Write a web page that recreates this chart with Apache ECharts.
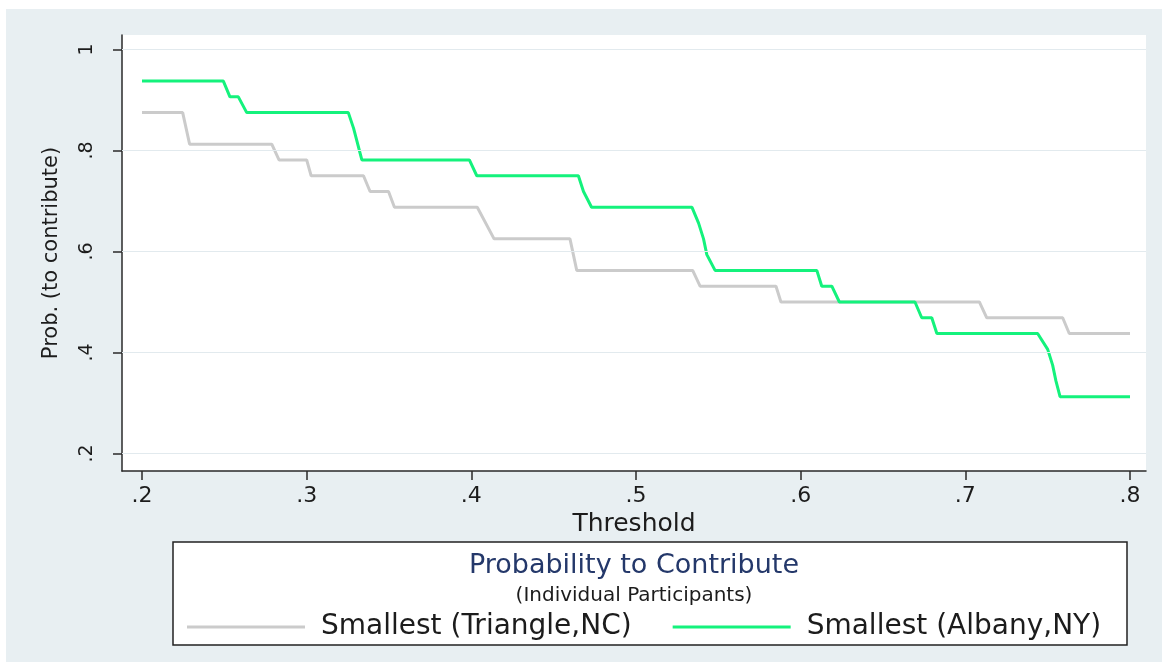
<!DOCTYPE html>
<html>
<head>
<meta charset="utf-8">
<script src="https://cdn.jsdelivr.net/npm/echarts@6/dist/echarts.min.js"></script>
<style>
  html, body { margin: 0; padding: 0; background: #ffffff; }
  #chart { width: 1173px; height: 671px; }
</style>
</head>
<body>
<div id="chart"></div>
<script>
// Probability to contribute by threshold, smallest groups
const triangleName = 'Smallest (Triangle,NC)';
const albanyName = 'Smallest (Albany,NY)';

const triangleX = [0.2, 0.2247, 0.2289, 0.2788, 0.2832, 0.3000, 0.3027, 0.3345, 0.3385, 0.3497, 0.3533,
  0.4036, 0.4138, 0.4599, 0.4640, 0.5344, 0.5389, 0.5850, 0.5880, 0.7085, 0.7130, 0.7591, 0.7631, 0.8];
const triangleY = [0.875, 0.875, 0.8125, 0.8125, 0.78125, 0.78125, 0.75, 0.75, 0.71875, 0.71875, 0.6875,
  0.6875, 0.625, 0.625, 0.5625, 0.5625, 0.53125, 0.53125, 0.5, 0.5, 0.46875, 0.46875, 0.4375, 0.4375];

const albanyX = [0.2, 0.2494, 0.2534, 0.2585, 0.2636, 0.3253, 0.3285, 0.3335, 0.3988, 0.4033, 0.4650,
  0.4681, 0.4730, 0.5340, 0.5380, 0.5410, 0.5430, 0.5480, 0.6098, 0.6128, 0.6189, 0.6235, 0.6694,
  0.6735, 0.6796, 0.6827, 0.7439, 0.7500, 0.7530, 0.7550, 0.7575, 0.8];
const albanyY = [0.9375, 0.9375, 0.90625, 0.90625, 0.875, 0.875, 0.84375, 0.78125, 0.78125, 0.75, 0.75,
  0.71875, 0.6875, 0.6875, 0.65625, 0.625, 0.59375, 0.5625, 0.5625, 0.53125, 0.53125, 0.5, 0.5,
  0.46875, 0.46875, 0.4375, 0.4375, 0.40625, 0.375, 0.34375, 0.3125, 0.3125];

const xTicks = [0.2, 0.3, 0.4, 0.5, 0.6, 0.7, 0.8];
const xTickLabels = ['.2', '.3', '.4', '.5', '.6', '.7', '.8'];
const yTicks = [0.2, 0.4, 0.6, 0.8, 1];
const yTickLabels = ['.2', '.4', '.6', '.8', '1'];

const legendTitle = 'Probability to Contribute';
const legendSubtitle = '(Individual Participants)';
const xTitle = 'Threshold';
const yTitle = 'Prob. (to contribute)';

const FONT = 'DejaVu Sans';
const INK = '#1c1c1c';

function pairs(xs, ys) { return xs.map((x, i) => [x, ys[i]]); }
function labelFor(ticks, labels) {
  return v => {
    const i = ticks.findIndex(t => Math.abs(t - v) < 1e-6);
    return i >= 0 ? labels[i] : '';
  };
}

const chart = echarts.init(document.getElementById('chart'), null, { renderer: 'canvas' });

chart.setOption({
  animation: false,
  backgroundColor: '#ffffff',
  graphic: [
    { type: 'rect', z: -100, silent: true,
      shape: { x: 6, y: 9, width: 1156, height: 653 },
      style: { fill: '#e8eff2' } },
    { type: 'rect', z: 1, silent: true,
      shape: { x: 173, y: 542, width: 954, height: 103 },
      style: { fill: '#ffffff', stroke: '#222222', lineWidth: 1.5 } },
    { type: 'text', z: 2, silent: true, x: 634, y: 566,
      style: { text: legendTitle, fill: '#24386a', font: '27px "' + FONT + '"',
               textAlign: 'center', textVerticalAlign: 'middle' } },
    { type: 'text', z: 2, silent: true, x: 634, y: 596,
      style: { text: legendSubtitle, fill: INK, font: '20px "' + FONT + '"',
               textAlign: 'center', textVerticalAlign: 'middle' } }
  ],
  legend: {
    z: 10,
    data: [triangleName, albanyName],
    left: 182,
    top: 608,
    icon: 'rect',
    itemWidth: 118,
    itemHeight: 3,
    itemGap: 41,
    selectedMode: false,
    textStyle: { fontFamily: FONT, fontSize: 28, color: INK, padding: [0, 0, 0, 11] }
  },
  grid: {
    left: 122, top: 35, width: 1024, height: 436,
    show: true, backgroundColor: '#ffffff', borderWidth: 0
  },
  xAxis: {
    type: 'value',
    min: 0.18785, max: 0.8097,
    name: xTitle, nameLocation: 'middle', nameGap: 33,
    nameTextStyle: { fontFamily: FONT, fontSize: 25, color: INK },
    axisLine: { show: true, onZero: false, lineStyle: { color: '#2a2a2a', width: 1.5 } },
    axisTick: { show: true, customValues: xTicks, length: 9, lineStyle: { color: '#2a2a2a', width: 1.5 } },
    axisLabel: { customValues: xTicks, formatter: labelFor(xTicks, xTickLabels), margin: 14,
                 fontFamily: FONT, fontSize: 22, color: INK },
    splitLine: { show: false }
  },
  yAxis: {
    type: 'value',
    min: 0.1653, max: 1.0287,
    name: yTitle, nameLocation: 'middle', nameGap: 60, nameRotate: 90,
    nameTextStyle: { fontFamily: FONT, fontSize: 21, color: INK },
    axisLine: { show: true, onZero: false, lineStyle: { color: '#2a2a2a', width: 1.5 } },
    axisTick: { show: true, customValues: yTicks, length: 9, lineStyle: { color: '#2a2a2a', width: 1.5 } },
    axisLabel: { customValues: yTicks, formatter: labelFor(yTicks, yTickLabels), rotate: 90, margin: 25,
                 fontFamily: FONT, fontSize: 19, color: INK },
    splitLine: { show: false }
  },
  series: [
    {
      name: triangleName,
      type: 'line',
      data: pairs(triangleX, triangleY),
      symbol: 'none',
      color: '#cbcbcb',
      lineStyle: { color: '#cbcbcb', width: 3 },
      markLine: {
        silent: true,
        symbol: ['none', 'none'],
        label: { show: false },
        lineStyle: { color: '#e2eaee', width: 1, type: 'solid' },
        data: yTicks.map(v => ({ yAxis: v }))
      },
      z: 2
    },
    {
      name: albanyName,
      type: 'line',
      data: pairs(albanyX, albanyY),
      symbol: 'none',
      color: '#14f27c',
      lineStyle: { color: '#14f27c', width: 3 },
      z: 3
    }
  ]
});
</script>
</body>
</html>
